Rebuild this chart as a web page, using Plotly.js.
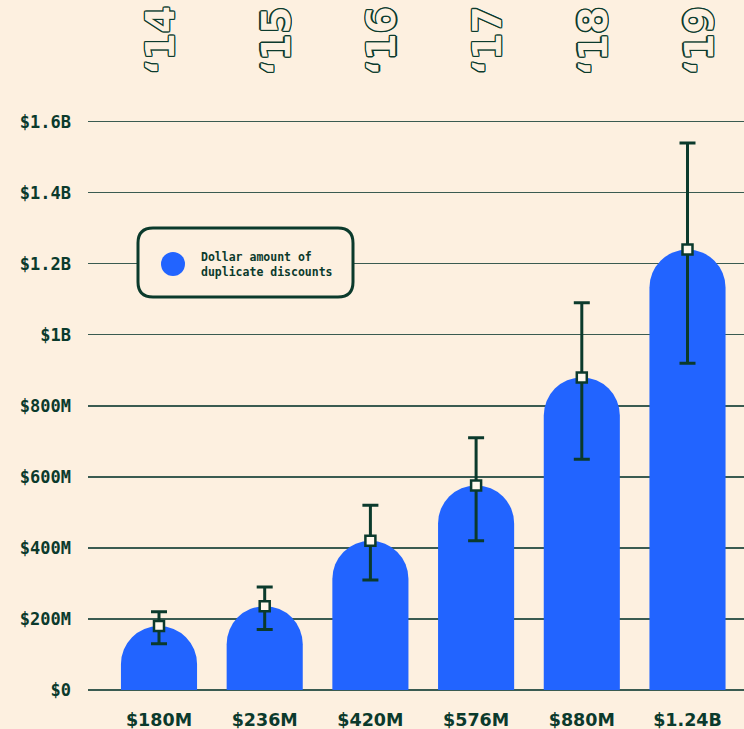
<!DOCTYPE html>
<html>
<head>
<meta charset="utf-8">
<script src="https://cdn.plot.ly/plotly-3.0.1.min.js"></script>
<style>
  html, body { margin: 0; padding: 0; background: #FDF0E0; }
  #chart { width: 744px; height: 729px; }
</style>
</head>
<body>
<div id="chart"></div>
<script>
// ---- data ----
const years = ["\u201814", "\u201815", "\u201816", "\u201817", "\u201818", "\u201819"];
const amountLabels = ["$180M", "$236M", "$420M", "$576M", "$880M", "$1.24B"];
const amounts = [180e6, 236e6, 420e6, 576e6, 880e6, 1.24e9];
const rangeLow = [0.13e9, 0.17e9, 0.31e9, 0.42e9, 0.65e9, 0.92e9];
const rangeHigh = [0.22e9, 0.29e9, 0.52e9, 0.71e9, 1.09e9, 1.54e9];
const yTickVals = [0, 200e6, 400e6, 600e6, 800e6, 1e9, 1.2e9, 1.4e9, 1.6e9];
const yTickText = ["$0", "$200M", "$400M", "$600M", "$800M", "$1B", "$1.2B", "$1.4B", "$1.6B"];
const legendText = "Dollar amount of<br>duplicate discounts";

// ---- style ----
const BG = "#FDF0E0";
const BLUE = "#2264FF";
const DARK = "#0B3A2C";
const GRID = "#3A5B51";

const W = 744, H = 729;
const M = { l: 88, r: 0, t: 112, b: 39 };
const PW = W - M.l - M.r, PH = H - M.t - M.b;
const px2x = p => (p - M.l) / PW;
const px2y = p => (H - M.b - p) / PH;
// 1.6B sits at pixel row ~121.7
const yMax = 1.6e9 * PH / (H - M.b - 121.7);

const bars = {
  type: "bar",
  x: years,
  y: amounts,
  marker: { color: BLUE, cornerradius: "50%", line: { width: 0 } },
  hoverinfo: "skip",
  showlegend: false
};

const errs = {
  type: "scatter",
  mode: "markers",
  x: years,
  y: amounts,
  marker: { symbol: "square", size: 10, color: "#FFF8EC", line: { color: DARK, width: 2.5 } },
  error_y: {
    type: "data",
    symmetric: false,
    array: amounts.map((v, i) => rangeHigh[i] - v),
    arrayminus: amounts.map((v, i) => v - rangeLow[i]),
    color: DARK,
    thickness: 3,
    width: 8
  },
  hoverinfo: "skip",
  showlegend: false
};

// rounded legend box path in paper coords
function roundRect(x0, y0, x1, y1, r) {
  const X = p => px2x(p).toFixed(5), Y = p => px2y(p).toFixed(5);
  return `M ${X(x0 + r)} ${Y(y0)} L ${X(x1 - r)} ${Y(y0)} Q ${X(x1)} ${Y(y0)} ${X(x1)} ${Y(y0 + r)} ` +
         `L ${X(x1)} ${Y(y1 - r)} Q ${X(x1)} ${Y(y1)} ${X(x1 - r)} ${Y(y1)} ` +
         `L ${X(x0 + r)} ${Y(y1)} Q ${X(x0)} ${Y(y1)} ${X(x0)} ${Y(y1 - r)} ` +
         `L ${X(x0)} ${Y(y0 + r)} Q ${X(x0)} ${Y(y0)} ${X(x0 + r)} ${Y(y0)} Z`;
}

const outline = [[-1,-1],[1,-1],[-1,1],[1,1],[0,-1.3],[0,1.3],[-1.3,0],[1.3,0]]
  .map(([a, b]) => `${a}px ${b}px 0 ${DARK}`).join(", ");

const yearAnnotations = years.map((t, i) => ({
  x: t, xref: "x", y: px2y(41), yref: "paper",
  text: t, showarrow: false, textangle: -90,
  xanchor: "center", yanchor: "middle",
  xshift: i === 0 ? 1 : 11,
  font: { family: "DejaVu Sans", size: 39, weight: 700, color: BG, shadow: outline }
}));

const layout = {
  width: W, height: H,
  margin: M,
  paper_bgcolor: BG, plot_bgcolor: BG,
  bargap: 0.28,
  hovermode: false,
  xaxis: {
    type: "category",
    range: [-(159 - M.l) / 105.7, -(159 - M.l) / 105.7 + PW / 105.7],
    tickvals: years, ticktext: amountLabels,
    ticks: "", showgrid: false, zeroline: false, showline: false,
    ticklabelstandoff: 17,
    tickfont: { family: "DejaVu Sans", size: 17.5, weight: 700, color: DARK },
    fixedrange: true
  },
  yaxis: {
    range: [0, yMax],
    tickvals: yTickVals, ticktext: yTickText,
    ticks: "", showgrid: true, gridcolor: GRID, gridwidth: 1.3,
    zeroline: true, zerolinecolor: GRID, zerolinewidth: 1.3,
    showline: false, ticklabelstandoff: 16,
    tickfont: { family: "DejaVu Sans Mono", size: 17, weight: 700, color: DARK },
    fixedrange: true
  },
  shapes: [
    { type: "path", xref: "paper", yref: "paper", layer: "above",
      path: roundRect(138, 228, 353, 297, 15),
      fillcolor: BG, line: { color: DARK, width: 3 } },
    { type: "circle", xref: "paper", yref: "paper", layer: "above",
      x0: px2x(161), x1: px2x(185), y0: px2y(276), y1: px2y(252),
      fillcolor: BLUE, line: { width: 0 } }
  ],
  annotations: yearAnnotations.concat([
    { x: px2x(199), xref: "paper", y: px2y(264), yref: "paper",
      text: legendText, showarrow: false, align: "left",
      xanchor: "left", yanchor: "middle",
      font: { family: "DejaVu Sans Mono", size: 11.5, weight: 700, color: DARK } }
  ])
};

Plotly.newPlot("chart", [bars, errs], layout, { displayModeBar: false, staticPlot: true });
</script>
</body>
</html>
